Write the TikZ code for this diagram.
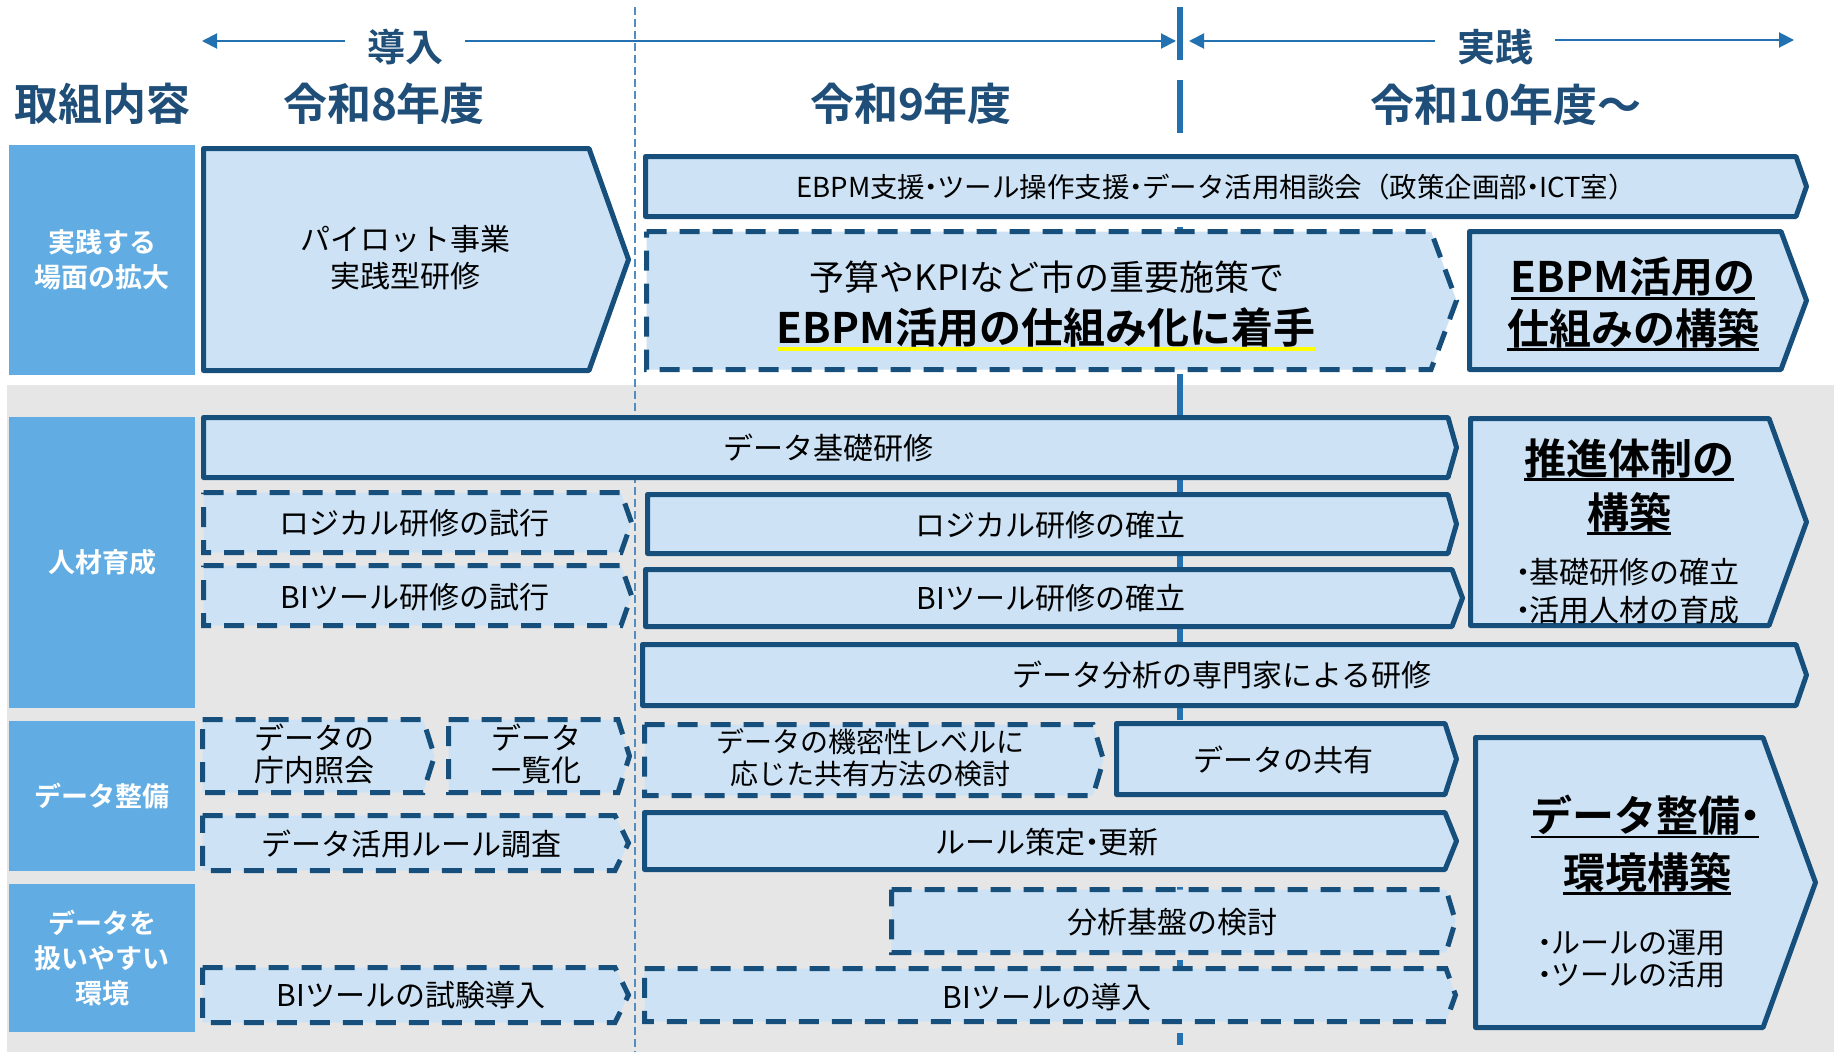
\documentclass[tikz,border=0pt]{standalone}
\usepackage{fontspec}
\setmainfont{Noto Sans CJK JP}[BoldFont={Noto Sans CJK JP Bold}]
\usetikzlibrary{arrows.meta}
\definecolor{boxline}{RGB}{22,79,123}
\definecolor{boxfill}{RGB}{205,227,245}
\definecolor{lblblue}{RGB}{97,172,226}
\definecolor{hdrblue}{RGB}{31,78,121}
\definecolor{arrblue}{RGB}{36,113,178}
\definecolor{bggray}{RGB}{230,230,230}
\definecolor{hiyellow}{RGB}{255,255,0}
\newcommand{\fsz}[2]{\fontsize{#1pt}{#2pt}\selectfont}
\newcommand{\nd}{\kern-0.28em・\kern-0.28em}
\newcommand{\chev}[6]{\draw[#1] ({#2+2.5},{#5+2.5}) -- ({#3-1},{#5+2.5}) -- ({#4-2.5},{(#5+#6)/2}) -- ({#3-1},{#6-2.5}) -- ({#2+2.5},{#6-2.5}) -- cycle;}
\newcommand{\undl}[3]{\draw[draw=#2,line width=#3] ([yshift=-5.5pt]#1.base west) -- ([yshift=-5.5pt]#1.base east);}
\begin{document}
\begin{tikzpicture}[x=1pt,y=-1pt,
 solidbox/.style={draw=boxline,fill=boxfill,line width=5pt,line join=round},
 dashbox/.style={draw=boxline,fill=boxfill,line width=5pt,dash pattern=on 20pt off 13pt},
 lblbox/.style={fill=lblblue,text=white,font=\bfseries\fsz{27}{35},align=center,inner sep=0pt,minimum width=186pt},
 hdr/.style={text=hdrblue,font=\bfseries\fsz{44}{50},inner sep=0pt},
 phase/.style={text=hdrblue,font=\bfseries\fsz{38}{44},inner xsep=22pt,inner ysep=0pt},
 arr/.style={draw=arrblue,line width=2pt,-{Triangle[length=15pt,width=15pt]}},
 bt/.style={font=\fsz{30}{37},align=center,inner sep=0pt},
 bigb/.style={font=\bfseries\fsz{42}{50},inner sep=0pt},
 bul/.style={font=\fsz{30}{38},align=left,inner sep=0pt}]

\useasboundingbox (0,0) rectangle (1838,1052);
\fill[white] (0,0) rectangle (1838,1052);
\fill[bggray] (7,385) rectangle (1834,1052);
\draw[arrblue!80,line width=1.5pt,dash pattern=on 8pt off 4pt] (635,7) -- (635,1052);
\draw[arrblue,line width=6pt,dash pattern=on 53pt off 20.3pt] (1180,7) -- (1180,1045);

% headers
\node[hdr] (h0) at (102,104) {取組内容};
\node[hdr] (h1) at (384,104) {令和8年度};
\node[hdr] (h2) at (911,104) {令和9年度};
\node[hdr] (h3) at (1506,105) {令和10年度～};

% phases
\node[phase] (dounyu) at (405,47) {導入};
\coordinate (dl) at (202,41);
\coordinate (dr) at (1176,41);
\draw[arr] (dounyu.west |- dl) -- (dl);
\draw[arr] (dounyu.east |- dr) -- (dr);
\node[phase] (jissen) at (1495,47) {実践};
\coordinate (jl) at (1189,41);
\coordinate (jr) at (1794,40);
\draw[arr] (jissen.west |- jl) -- (jl);
\draw[arr] (jissen.east |- jr) -- (jr);

% row labels
\node[lblbox,minimum height=230pt] (L1) at (102,260) {実践する\\場面の拡大};
\node[lblbox,minimum height=291pt] (L2) at (102,562.5) {人材育成};
\node[lblbox,minimum height=150pt] (L3) at (102,796) {データ整備};
\node[lblbox,minimum height=148pt] (L4) at (102,958) {データを\\扱いやすい\\環境};

% row 1
\chev{solidbox}{201}{590}{631}{146}{373}
\node[bt] (t1) at (405,258) {パイロット事業\\実践型研修};
\chev{solidbox}{643}{1797}{1809}{154}{219}
\node[bt,font=\fsz{27.5}{30}] (t2) at (1216,187) {EBPM支援\nd ツール操作支援\nd データ活用相談会（政策企画部\nd ICT室）};
\chev{dashbox}{644}{1432}{1459}{229}{372}
\node[bt,font=\fsz{35}{40}] (t3a) at (1047,277) {予算やKPIなど市の重要施策で};
\node[bigb] (t3b) at (1046,328) {EBPM活用の仕組み化に着手};
\undl{t3b}{hiyellow}{4pt}
\chev{solidbox}{1467}{1782}{1809}{229}{372}
\node[bigb] (t4a) at (1633,277) {EBPM活用の};
\node[bigb] (t4b) at (1633,328) {仕組みの構築};
\undl{t4a}{black}{2.5pt}
\undl{t4b}{black}{2.5pt}

% row 2
\chev{solidbox}{201}{1449}{1459}{415}{480}
\node[bt] (t5) at (828,448) {データ基礎研修};
\chev{dashbox}{201}{622}{634}{490}{555}
\node[bt] (t6) at (414,523) {ロジカル研修の試行};
\chev{dashbox}{201}{622}{634}{563}{628}
\node[bt] (t7) at (415,597) {BIツール研修の試行};
\chev{solidbox}{645}{1449}{1459}{492}{556}
\node[bt] (t8) at (1050,525) {ロジカル研修の確立};
\chev{solidbox}{643}{1453}{1465}{567}{629}
\node[bt] (t9) at (1051,598) {BIツール研修の確立};
\chev{solidbox}{1468}{1770}{1809}{416}{628}
\node[bigb] (t10a) at (1629,458) {推進体制の};
\node[bigb] (t10b) at (1629,512) {構築};
\undl{t10a}{black}{2.5pt}
\undl{t10b}{black}{2.5pt}
\node[bul] (t10c) at (1628,591) {\kern-0.28em・\kern-0.28em 基礎研修の確立\\\kern-0.28em・\kern-0.28em 活用人材の育成};
\chev{solidbox}{640}{1797}{1809}{642}{708}
\node[bt] (t11) at (1222,675) {データ分析の専門家による研修};

% row 3
\chev{dashbox}{200}{424}{437}{717}{795}
\node[bt,font=\fsz{30}{32}] (t12) at (314,754) {データの\\庁内照会};
\chev{dashbox}{446}{619}{632}{717}{795}
\node[bt,font=\fsz{30}{32}] (t13) at (536,754) {データ\\一覧化};
\chev{dashbox}{200}{616}{631}{813}{873}
\node[bt] (t14) at (411,844) {データ活用ルール調査};
\chev{dashbox}{642}{1094}{1106}{722}{798}
\node[bt,font=\fsz{28}{32}] (t16) at (870,758) {データの機密性レベルに\\応じた共有方法の検討};
\chev{solidbox}{1114}{1446}{1459}{721}{797}
\node[bt] (t17) at (1283,760) {データの共有};
\chev{solidbox}{642}{1446}{1459}{810}{872}
\node[bt] (t18) at (1047,842) {ルール策定\nd 更新};

% row 4
\chev{dashbox}{889}{1447}{1458}{887}{955}
\node[bt] (t19) at (1172,922) {分析基盤の検討};
\chev{dashbox}{200}{616}{631}{965}{1025}
\node[bt] (t15) at (411,995) {BIツールの試験導入};
\chev{dashbox}{642}{1447}{1458}{966}{1024}
\node[bt] (t20) at (1047,997) {BIツールの導入};

% right summary
\chev{solidbox}{1473}{1764}{1818}{735}{1030}
\node[bigb] (t21a) at (1645,815) {データ整備\nd};
\node[bigb] (t21b) at (1647,872) {環境構築};
\undl{t21a}{black}{2.5pt}
\undl{t21b}{black}{2.5pt}
\node[bul,font=\fsz{29}{32}] (t21c) at (1632,959) {\kern-0.28em・\kern-0.28em ルールの運用\\\kern-0.28em・\kern-0.28em ツールの活用};
\end{tikzpicture}
\end{document}
